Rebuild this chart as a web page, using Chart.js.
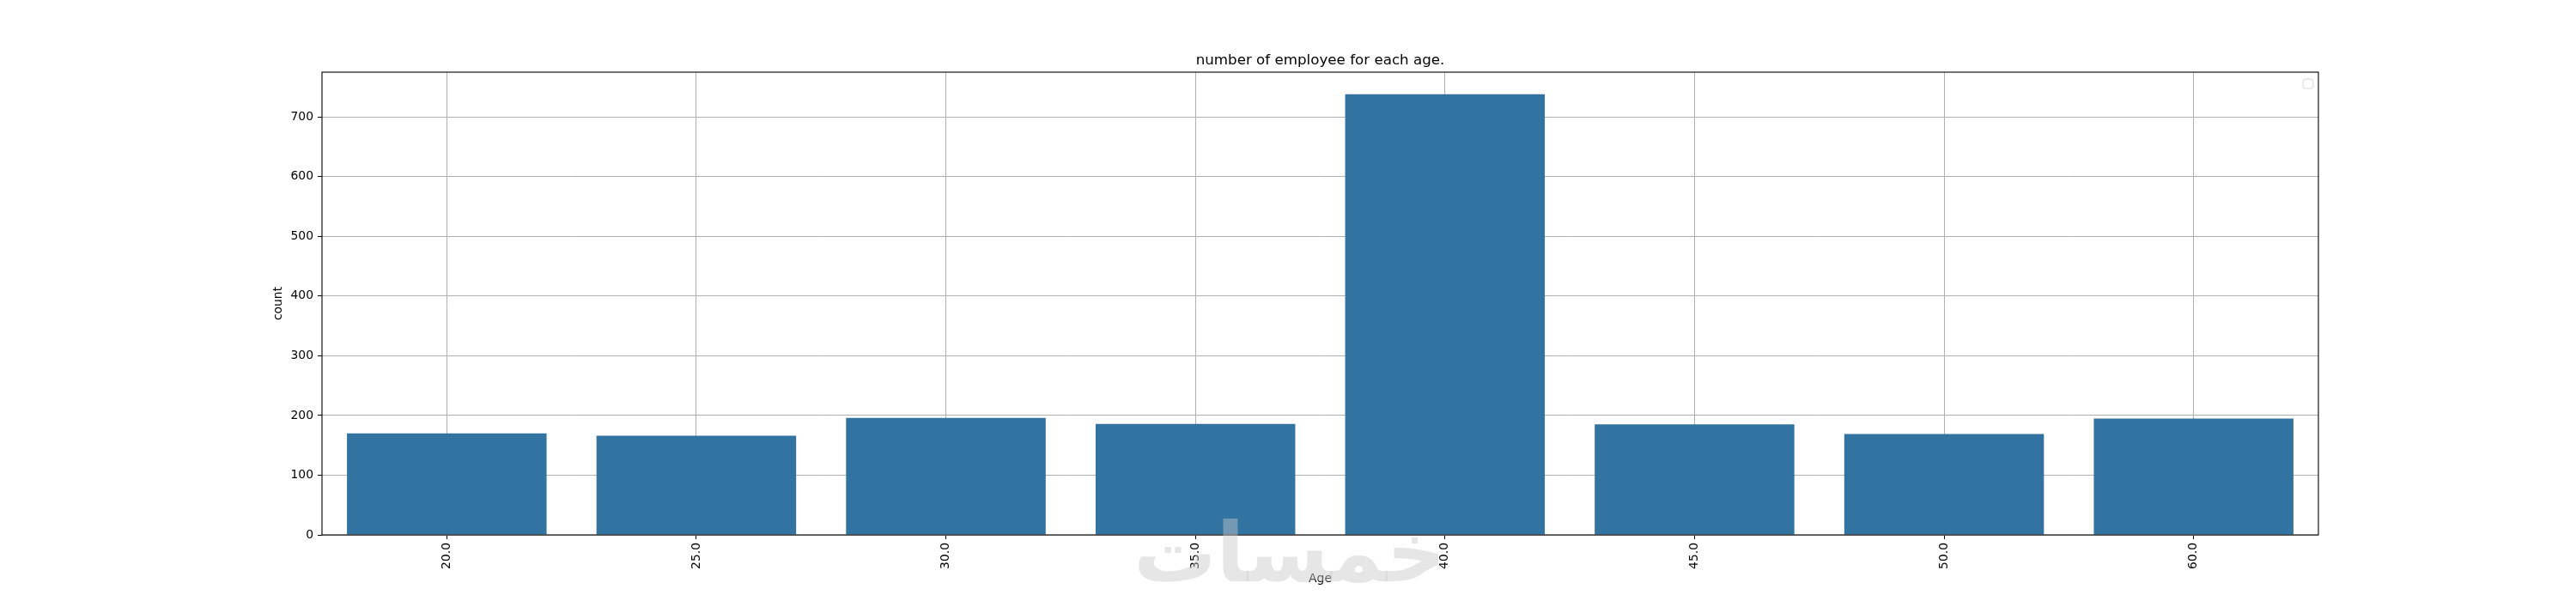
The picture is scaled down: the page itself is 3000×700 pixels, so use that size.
<!DOCTYPE html>
<html>
<head>
<meta charset="utf-8">
<script src="https://cdn.jsdelivr.net/npm/chart.js@4/dist/chart.umd.min.js"></script>
<style>
  html, body { margin: 0; padding: 0; background: #fff; }
  #wrap { width: 3000px; height: 700px; }
</style>
</head>
<body>
<div id="wrap"><canvas id="ageChart" width="3000" height="700"></canvas></div>
<script>
// data
var ages = ["20.0", "25.0", "30.0", "35.0", "40.0", "45.0", "50.0", "60.0"];
var counts = [170, 166, 196, 186, 738, 185, 169, 195];
var yTicks = [0, 100, 200, 300, 400, 500, 600, 700];
var yMax = 775;

var font = "'DejaVu Sans', sans-serif";

// frame on all four sides, empty legend box and the watermark
var extras = {
  id: "extras",
  afterDraw: function (chart) {
    var ctx = chart.ctx;
    var a = chart.chartArea;
    ctx.save();
    ctx.strokeStyle = "#000";
    ctx.lineWidth = 1.1;
    ctx.strokeRect(a.left, a.top, a.right - a.left, a.bottom - a.top);

    // matplotlib draws an empty legend frame in the corner
    ctx.strokeStyle = "rgba(204,204,204,0.8)";
    ctx.lineWidth = 1;
    ctx.beginPath();
    ctx.roundRect(a.right - 18, a.top + 8, 12, 11, 3);
    ctx.stroke();

    // watermark
    ctx.fillStyle = "rgba(200,200,200,0.45)";
    ctx.font = "bold 96px 'DejaVu Sans'";
    ctx.textAlign = "center";
    ctx.textBaseline = "middle";
    ctx.fillText("خمسات", 1502, 652);
    ctx.restore();
  },
};

new Chart(document.getElementById("ageChart").getContext("2d"), {
  type: "bar",
  data: {
    labels: ages,
    datasets: [
      {
        data: counts,
        backgroundColor: "#3274a1",
        categoryPercentage: 0.8,
        barPercentage: 1.0,
      },
    ],
  },
  options: {
    responsive: false,
    animation: false,
    events: [],
    layout: { padding: { left: 300, right: 300, top: 0, bottom: 0 } },
    plugins: {
      legend: { display: false },
      tooltip: { enabled: false },
      title: {
        display: true,
        fullSize: false,
        text: "number of employee for each age.",
        color: "#000",
        font: { family: font, size: 16.7, weight: "normal" },
        padding: { top: 61, bottom: 3 },
      },
    },
    scales: {
      x: {
        z: 1,
        offset: true,
        grid: {
          color: "#b0b0b0",
          lineWidth: 1,
          offset: false,
          tickColor: "#000",
          tickLength: 5,
        },
        border: { display: false },
        ticks: {
          color: "#000",
          font: { family: font, size: 13.9 },
          minRotation: 90,
          maxRotation: 90,
          padding: 4,
        },
        title: {
          display: true,
          text: "Age",
          color: "#000",
          font: { family: font, size: 13.9 },
          padding: { top: 4, bottom: 17 },
        },
        afterFit: function (s) { s.height = 77; },
      },
      y: {
        z: 1,
        min: 0,
        max: yMax,
        grid: {
          color: "#b0b0b0",
          lineWidth: 1,
          tickColor: "#000",
          tickLength: 5,
        },
        border: { display: false },
        afterBuildTicks: function (s) {
          s.ticks = yTicks.map(function (v) { return { value: v }; });
        },
        ticks: {
          color: "#000",
          font: { family: font, size: 13.9 },
          padding: 5,
        },
        title: {
          display: true,
          text: "count",
          color: "#000",
          font: { family: font, size: 13.9 },
          padding: { top: 16, bottom: 0 },
        },
        afterFit: function (s) { s.width = 75; },
      },
    },
  },
  plugins: [extras],
});
</script>
</body>
</html>
